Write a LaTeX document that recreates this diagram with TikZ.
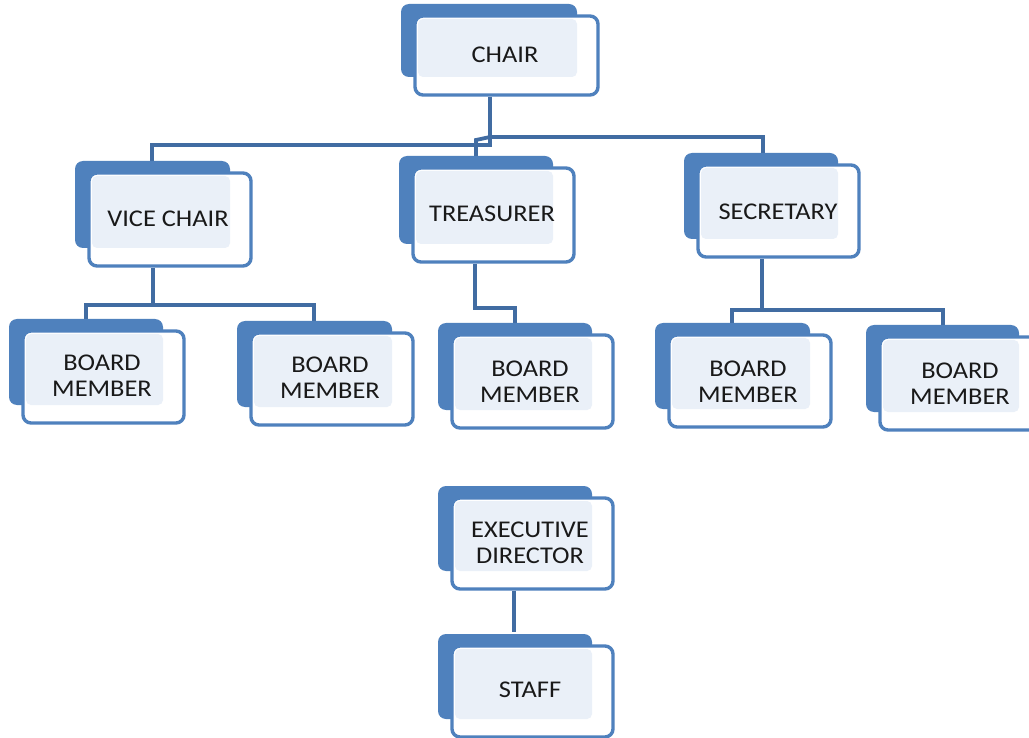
\documentclass[tikz,border=0pt]{standalone}
\usepackage{fontspec}
\setmainfont{Carlito}[FakeStretch=1.1]
\usetikzlibrary{fit,backgrounds}
\definecolor{backc}{RGB}{79,129,189}
\definecolor{linec}{RGB}{65,108,162}
\definecolor{innerc}{RGB}{234,240,248}
\tikzset{
  backfill/.style={fill=backc, rounded corners=8pt},
  innerfill/.style={fill=innerc, rounded corners=5pt},
  frontbox/.style={draw=backc, line width=3.4pt, fill=white, rounded corners=8pt, inner sep=0pt},
  lbl/.style={font=\fontsize{24}{26}\selectfont, text=black!90, align=center, inner sep=0pt},
  conn/.style={draw=linec, line width=3.8pt}
}
\newcommand\orgbox[5]{%
  \fill[backfill] (#2-14,#3-12) rectangle (#4-21,#5-18);
  \node[frontbox, fit={(#2,#3)(#4,#5)}] (#1) {};
  \fill[innerfill] (#2+3,#3+3) rectangle (#4-21,#5-18);
}
\begin{document}
\begin{tikzpicture}[x=1pt,y=-1pt]
\clip (0,0) rectangle (1029,738);
% boxes
\orgbox{chair}{415}{16}{598}{95}
\orgbox{vice}{89}{173}{251}{266}
\orgbox{treas}{413}{168}{574}{262}
\orgbox{secr}{698}{165}{859}{257}
\orgbox{bma}{23}{331}{184}{423}
\orgbox{bmb}{251}{333}{413}{425}
\orgbox{bmc}{452}{335}{613}{428}
\orgbox{bmd}{669}{335}{831}{427}
\orgbox{bme}{880}{337}{1040}{430}
\orgbox{exec}{452}{498}{613}{589}
\orgbox{staff}{452}{646}{613}{737}
% labels
\node[lbl] (chairL) at (505,55) {CHAIR};
\node[lbl] (viceL) at (168,219) {VICE CHAIR};
\node[lbl] (treasL) at (492,214) {TREASURER};
\node[lbl] (secrL) at (778,212) {SECRETARY};
\node[lbl] (bmaL) at (102,376) {BOARD\\MEMBER};
\node[lbl] (bmbL) at (330,378) {BOARD\\MEMBER};
\node[lbl] (bmcL) at (530,382) {BOARD\\MEMBER};
\node[lbl] (bmdL) at (748,382) {BOARD\\MEMBER};
\node[lbl] (bmeL) at (960,384) {BOARD\\MEMBER};
\node[lbl] (execL) at (530,543) {EXECUTIVE\\DIRECTOR};
\node[lbl] (staffL) at (530,690) {STAFF};
% junction coordinates
\coordinate (ja) at (490,145);
\coordinate (jb) at (490,137);
\coordinate (jc) at (476,140);
\coordinate (jv) at (153,305);
\coordinate (jt) at (475,308);
\coordinate (js) at (762,310);
\begin{scope}[on background layer]
\fill[white] (0,0) rectangle (1029,738);
\draw[conn] (chair.south -| ja) -- (ja) -| ([yshift=8pt]vice.north -| 152,0);
\draw[conn] (jb) -| ([yshift=10pt]secr.north -| 763,0);
\draw[conn] ([yshift=10pt]treas.north -| jc) -- (jc) -- (jb);
\draw[conn] (vice.south -| jv) -- (jv);
\draw[conn] ([yshift=10pt]bma.north -| 86,0) |- (jv) -| ([yshift=10pt]bmb.north -| 314,0);
\draw[conn] (treas.south -| jt) -- (jt) -| ([yshift=10pt]bmc.north -| 515,0);
\draw[conn] (secr.south -| js) -- (js);
\draw[conn] ([yshift=10pt]bmd.north -| 732,0) |- (js) -| ([yshift=10pt]bme.north -| 943,0);
\draw[conn] (exec.south -| 514,0) -- ([yshift=12pt]staff.north -| 514,0);
\end{scope}
\end{tikzpicture}
\end{document}
